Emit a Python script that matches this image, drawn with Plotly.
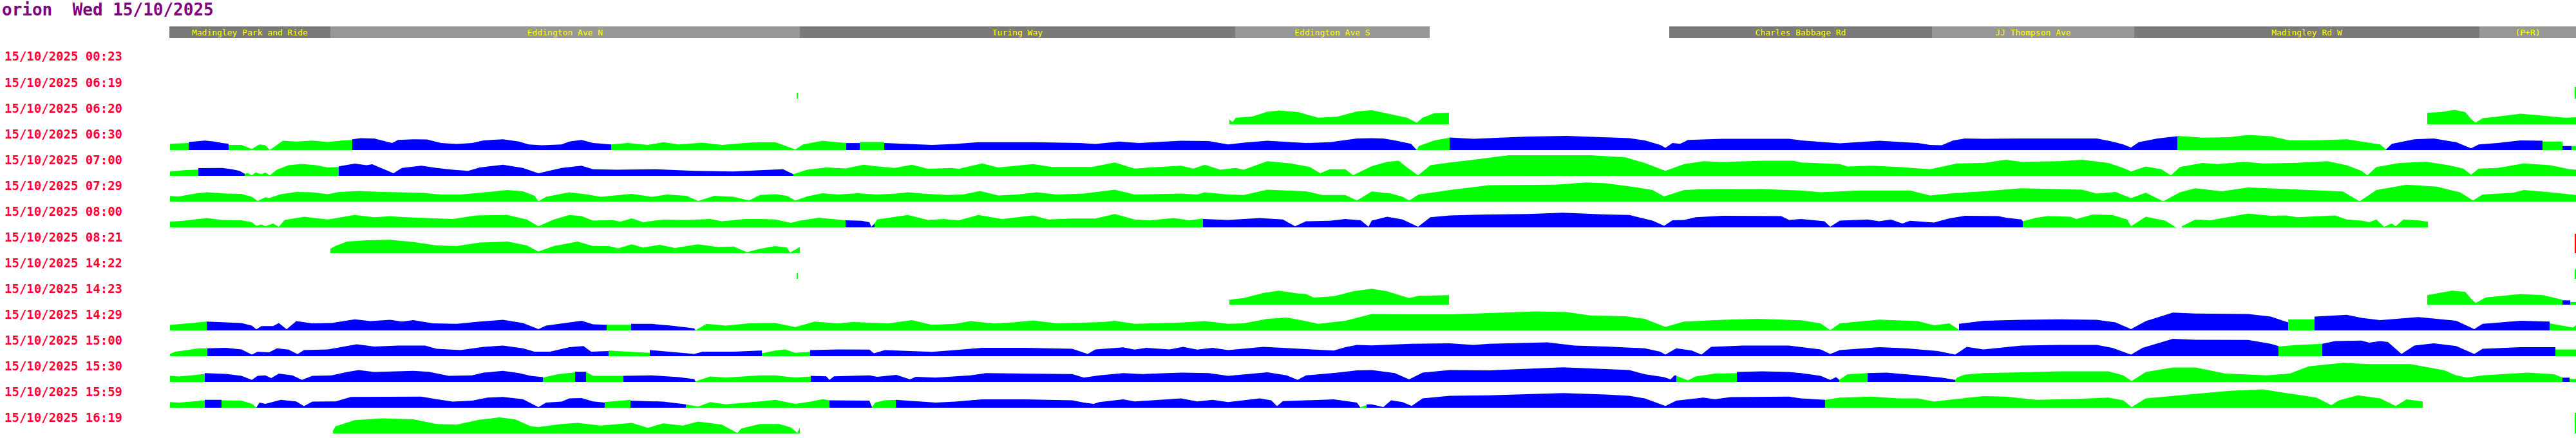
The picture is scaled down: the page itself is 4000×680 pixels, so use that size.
import plotly.graph_objects as go

# ---------------- data ----------------
W, H = 4000, 680
bus_name = "orion"
day_label = "Wed\u00a015/10/2025"
day = "15/10/2025"
row_times = ["00:23", "06:19", "06:20", "06:30", "07:00", "07:29", "08:00", "08:21",
             "14:22", "14:23", "14:29", "15:00", "15:30", "15:59", "16:19"]

stop_names = ["Madingley Park and Ride", "Eddington Ave N", "Turing Way", "Eddington Ave S",
              "Charles Babbage Rd", "JJ Thompson Ave", "Madingley Rd W", "(P+R)"]
stop_start = [263, 513, 1242, 1918, 2592, 3000, 3314, 3850]
stop_end = [513, 1242, 1918, 2220, 3000, 3314, 3850, 4000]
stop_shade = ["dark", "light", "dark", "light", "dark", "light", "dark", "light"]

G, B, R = "g", "b", "r"

row_0620 = [
    (G, [1909, 1914, 1919, 1944, 1968, 1986, 2016, 2034, 2047, 2077, 2107, 2130, 2160, 2185, 2200, 2209, 2227, 2250],
        [7.4, 3.5, 10.2, 11.9, 19.6, 21.4, 18.9, 13.7, 10.2, 11.9, 20, 22.1, 15.8, 10.2, 2.5, 10.2, 17.2, 17.9]),
    (G, [3769, 3790, 3811, 3828, 3837, 3844, 3855, 3878, 3914, 3949, 3984, 4000],
        [17.9, 18.9, 22.5, 18.9, 8.4, 2.5, 9.5, 11.9, 16.5, 13, 10.2, 10.9]),
]

row_0630 = [
    (G, [264, 291, 293], [9.8, 10.9, 10.9]),
    (B, [293, 318, 333, 345, 355], [12.6, 14.7, 13.3, 10.9, 9.8]),
    (G, [355, 375, 391, 403, 412, 419, 439, 460, 485, 509, 533, 547],
        [8, 8, 1.8, 8.8, 7.4, 0, 14.4, 13.3, 14.7, 12.6, 15, 15.8]),
    (B, [547, 560, 581, 594, 609, 618, 642, 663, 685, 709, 733, 751, 781, 806, 821, 842, 872, 884, 903, 921, 949],
        [16.8, 18.6, 17.9, 15, 10.9, 15.8, 16.8, 16.5, 10.9, 9.5, 10.9, 15, 16.8, 13.3, 8.8, 7.4, 8.8, 13.3, 15.8, 10.9, 8.8]),
    (G, [949, 975, 1006, 1030, 1054, 1091, 1121, 1163, 1180, 1204, 1235, 1247, 1277, 1314],
        [8.8, 10.9, 8, 12.3, 8.8, 11.6, 8, 11.6, 12.3, 12.3, 1, 8.8, 14.4, 10.9]),
    (B, [1314, 1335], [10.9, 10.9]),
    (G, [1335, 1373], [12.6, 12.6]),
    (B, [1373, 1422, 1447, 1483, 1519, 1604, 1677, 1701, 1738, 1768, 1834, 1877, 1907, 1931, 1968, 2028, 2065, 2107,
         2130, 2148, 2166, 2191, 2200],
        [10.9, 8.8, 8, 9.5, 12.3, 12.3, 10.9, 9.5, 13.3, 10.9, 14.4, 14, 8.8, 11.6, 14.4, 10.9, 12.3, 17.9,
         18.6, 17.9, 15, 9.8, 0]),
    (G, [2200, 2203, 2227, 2251], [0, 6.3, 15, 19.3]),
    (B, [2251, 2288, 2312, 2372, 2433, 2500, 2530, 2554, 2578, 2586, 2597, 2609, 2621, 2675, 2778, 2797, 2857, 2918,
         2978, 2997, 3015, 3033, 3051, 3080, 3139, 3256, 3280, 3297, 3309, 3321, 3350, 3381],
        [19.6, 17.5, 18.6, 21, 22, 20, 18.6, 15, 8, 3.5, 10.9, 9.8, 15.8, 17.5, 17.5, 15, 10.5, 14.4,
         10.9, 8, 7.4, 15, 17.9, 17.5, 17.9, 17.9, 13.3, 8.8, 3.9, 12.3, 17.9, 21.4]),
    (G, [3381, 3420, 3462, 3491, 3526, 3555, 3591, 3644, 3667, 3696, 3705],
        [22, 19.3, 20, 23.5, 21.4, 15, 15, 16.8, 13.3, 8.8, 1]),
    (B, [3705, 3714, 3749, 3779, 3814, 3837, 3849, 3878, 3914, 3948],
        [1, 9.8, 16.8, 17.9, 12.3, 2.8, 8.8, 10.9, 15, 14.4]),
    (G, [3948, 3979], [13.3, 13.3]),
    (B, [3979, 3993], [6.3, 6.3]),
    (G, [3993, 4000], [6.3, 6.3]),
]

row_0700 = [
    (G, [264, 285, 308], [6.7, 8.8, 9.8]),
    (B, [308, 345, 360, 372, 380], [11.9, 12.3, 10.2, 7.7, 3.2]),
    (G, [380, 385, 391, 397, 406, 412, 419, 430, 448, 469, 491, 509, 526],
        [3.2, 4.2, 0.7, 5.3, 2.5, 5.3, 0.7, 9.5, 16.5, 18.6, 16.5, 13, 13.7]),
    (B, [526, 551, 569, 578, 594, 611, 624, 654, 678, 703, 727, 745, 781, 812, 836, 872, 903, 921, 957, 1018,
         1078, 1139, 1180, 1204, 1216, 1232],
        [14.7, 19, 16.5, 17.9, 11.2, 3.9, 12.3, 15.8, 12.3, 9.5, 7.7, 13, 17.2, 12.3, 3.9, 12.3, 15.8, 10.2, 9.5, 10.2,
         7.7, 6.7, 8.8, 9.5, 10.2, 2.5]),
    (G, [1232, 1253, 1283, 1313, 1341, 1362, 1389, 1416, 1441, 1477, 1489, 1525, 1550, 1604, 1634, 1695, 1731, 1762,
         1786, 1834, 1853, 1871, 1895, 1919, 1931, 1968, 2004, 2034, 2050, 2065, 2089, 2101, 2113, 2130, 2154, 2172,
         2185, 2202, 2221, 2251, 2282, 2342, 2469, 2524, 2554, 2586, 2615, 2645, 2675, 2736, 2784, 2797, 2857, 2869,
         2906, 2948, 2997, 3039, 3080, 3115, 3139, 3197, 3233, 3274, 3297, 3309, 3332, 3356, 3371, 3385, 3420, 3444,
         3485, 3514, 3561, 3614, 3644, 3667, 3676, 3690, 3726, 3767, 3802, 3825, 3837, 3849, 3878, 3919, 3960, 3990,
         4000],
        [2.5, 9.5, 13, 11.6, 17.2, 14.7, 12.3, 17.2, 10.9, 12.3, 10.9, 19.3, 13, 18.2, 13.7, 13.7, 20.7, 11.2,
         13, 15.8, 11.2, 17.2, 9.5, 12.3, 9.5, 22.8, 19.3, 13.7, 3.9, 10.2, 10.2, 1, 6.7, 15, 21.8, 23.5,
         13, 0.7, 16.5, 20.7, 24.2, 31.9, 31.9, 28.8, 20, 7.7, 18.2, 22.8, 21.4, 23.5, 23.5, 20.7, 18.2, 14.4,
         15.8, 13.7, 10.2, 19.3, 20, 24.9, 21.8, 22.8, 24.9, 20, 12.3, 6.7, 14.4, 10.2, 0.7, 13.7, 20, 18.2,
         21.8, 19.3, 20, 22.8, 16.5, 7.7, 0.7, 13.7, 20, 22.1, 16.5, 11.2, 1.8, 11.2, 12.3, 19.3, 16.5, 10.2,
         9.5]),
]

row_0729 = [
    (G, [264, 278, 303, 321, 351, 375, 391, 400, 412, 418, 436, 460, 485, 509, 527, 557, 594, 654, 685, 715,
         745, 788, 812, 830, 836, 848, 884, 909, 933, 981, 1012, 1036, 1066, 1084, 1109, 1139, 1163, 1180, 1204, 1222,
         1235, 1253, 1277, 1301, 1332, 1362, 1392, 1410, 1435, 1471, 1495, 1522, 1550, 1580, 1610, 1641, 1683, 1731,
         1762, 1834, 1859, 1871, 1907, 1931, 1968, 2028, 2053, 2089, 2107, 2130, 2160, 2178, 2188, 2203, 2251, 2312,
         2415, 2463, 2494, 2542, 2566, 2584, 2615, 2645, 2736, 2797, 2827, 2888, 2966, 2997, 3027, 3080, 3139, 3197,
         3233, 3256, 3285, 3309, 3332, 3359, 3385, 3409, 3450, 3491, 3550, 3591, 3638, 3664, 3690, 3737, 3784, 3820,
         3840, 3855, 3902, 3919, 3960, 4000],
        [8.8, 8.1, 12.6, 14.4, 12.6, 11.9, 7.4, 1, 6.7, 5.6, 11.6, 15.1, 14.4, 11.6, 15.1, 16.5, 15.1, 13.7, 10.9, 10.9,
         13.7, 17.9, 16.1, 9.1, 0.4, 7.4, 14.4, 11.6, 7.4, 11.9, 7.4, 10.9, 9.1, 1, 9.1, 7.4, 1.8, 10.2, 11.6, 9.1,
         1.8, 8.1, 13, 10.9, 13, 10.9, 12.6, 14.4, 12.3, 10.2, 10.9, 16.5, 9.5, 10.9, 14.4, 10.9, 12.6, 18.6,
         10.9, 12.6, 10.9, 14.4, 10.9, 10.2, 18.6, 16.1, 10.2, 10.2, 1.8, 15.8, 12.6, 7.4, 1.8, 10.9, 17.9, 25.6,
         26.3, 29.8, 28.4, 22.1, 17.9, 8.1, 17.9, 19.3, 19.6, 17.2, 14.4, 17.2, 17.2, 9.5, 12.6, 16, 20.7, 19.3,
         18.6, 12.6, 15.1, 5.6, 13.7, 0.4, 14.4, 20.7, 16.1, 22.1, 19.6, 17.9, 15.8, 0.4, 17.9, 26.3, 23.2, 14.4,
         1.8, 10.9, 13.7, 17.9, 14.4, 10.2]),
]

row_0800 = [
    (G, [264, 285, 321, 345, 375, 391, 398, 406, 412, 424, 433, 442, 472, 509, 551, 581, 606, 630, 703, 739,
         788, 818, 836, 860, 884, 903, 921, 951, 963, 981, 999, 1030, 1066, 1103, 1121, 1157, 1180, 1204, 1228, 1241,
         1271, 1301, 1313],
        [8.8, 10.2, 14.4, 11.6, 10.9, 8.1, 2.5, 4.6, 1.8, 6, 1, 11.6, 16.5, 12.3, 19.3, 15.8, 17.2, 15.8, 13, 18.6,
         19.3, 12.3, 1.8, 12.3, 19.3, 17.5, 10.5, 11.6, 8.8, 14, 8.1, 12.3, 11.6, 13, 9.5, 13, 13, 12.3, 7, 10.2,
         15.1, 12.3, 10.9]),
    (B, [1313, 1338, 1350, 1353, 1358], [10.9, 10.2, 8.1, 1, 6]),
    (G, [1358, 1362, 1386, 1410, 1441, 1465, 1489, 1519, 1556, 1604, 1628, 1665, 1701, 1731, 1762, 1786, 1822, 1847, 1868],
        [6, 12.3, 15.8, 19.3, 11.6, 13, 10.9, 19.3, 13, 18.6, 12.3, 13.7, 13.7, 20.7, 12.3, 10.9, 14.4, 10.9, 13.7]),
    (B, [1868, 1907, 1956, 1992, 2011, 2028, 2065, 2089, 2113, 2125, 2130, 2154, 2178, 2202, 2221, 2251, 2312, 2372,
         2427, 2494, 2530, 2566, 2584, 2597, 2615, 2633, 2675, 2766, 2778, 2797, 2833, 2842, 2857, 2900, 2918, 2936,
         2954, 2966, 3003, 3027, 3051, 3080, 3103, 3115, 3139, 3141],
        [13, 11.6, 14.4, 12.3, 1.8, 9.5, 10.2, 13, 10.9, 1, 10.5, 16.5, 12.3, 1, 15.8, 18.6, 20, 20.7,
         22.8, 20, 19.3, 10.5, 2.5, 10.9, 11.6, 15.8, 17.9, 17.5, 11.6, 13, 9.5, 1, 10.5, 12.3, 9.5, 12.3,
         6, 10.2, 7.4, 14, 17.9, 17.9, 17.5, 15.1, 12.3, 9.5]),
    (G, [3141, 3162, 3180, 3215, 3224, 3250, 3280, 3303, 3309, 3332, 3362, 3379],
        [9.5, 15.1, 17.5, 16.5, 13, 20, 19.3, 12.3, 1.8, 16.5, 10.5, 0]),
    (G, [3388, 3409, 3432, 3456, 3491, 3526, 3550, 3567, 3626, 3644, 3667, 3679, 3690, 3702, 3714, 3720, 3732, 3755, 3770],
        [1.8, 12.3, 10.9, 15.1, 21.4, 17.9, 18.6, 15.8, 18.6, 12.3, 10.5, 8.1, 12.3, 1, 6, 1.8, 12.3, 10.9, 8.8]),
]

row_0821 = [
    (G, [513, 521, 539, 569, 606, 642, 678, 709, 745, 788, 818, 836, 860, 897, 921, 945, 960, 981, 999, 1024,
         1048, 1084, 1115, 1139, 1160, 1180, 1204, 1222, 1227, 1241, 1242],
        [6.7, 11.2, 17.9, 20, 20.7, 17.2, 11.9, 10.9, 16.5, 17.9, 11.9, 2.5, 10.9, 17.9, 10.9, 10.9, 7.4, 13.7, 8.4, 13,
         8.1, 13.7, 9.5, 10.2, 1.4, 6.7, 10.9, 8.4, 1, 9.5, 9.5]),
]

row_1423 = [
    (G, [1909, 1931, 1962, 1986, 2016, 2028, 2040, 2071, 2101, 2130, 2154, 2188, 2203, 2250],
        [7.7, 10.2, 18.2, 21.8, 17.2, 16.5, 10.9, 13, 20.7, 24.8, 20.7, 10.2, 13.7, 14.7]),
    (G, [3769, 3807, 3828, 3837, 3844, 3860, 3914, 3949, 3979],
        [14.7, 21.8, 20, 9.5, 2.5, 11.2, 16.5, 14.7, 7.7]),
    (B, [3979, 3991], [6.7, 6.7]),
    (G, [3991, 4000], [4.2, 4.2]),
]

row_1429 = [
    (G, [264, 291, 321], [8.4, 10.9, 13.7]),
    (B, [321, 351, 375, 391, 398, 406, 424, 433, 445, 460, 485, 515, 551, 575, 606, 624, 642, 672, 709, 745,
         781, 812, 836, 848, 872, 903, 921, 942],
        [13.7, 12.6, 11.6, 7.4, 1.8, 6.7, 6.7, 11.6, 1.8, 14.4, 10.9, 11.6, 17.2, 14.4, 16.5, 13.7, 16.1, 10.9, 10.2, 13.7,
         16.5, 11.6, 2.1, 7.4, 10.9, 15.1, 9.5, 8.8]),
    (G, [942, 980], [8.8, 8.8]),
    (B, [980, 1012, 1042, 1078, 1080], [10.2, 10.2, 7.4, 3.2, 0.3]),
    (G, [1080, 1097, 1127, 1163, 1180, 1204, 1235, 1265, 1301, 1325, 1380, 1416, 1447, 1483, 1507, 1544, 1574, 1604,
         1641, 1677, 1713, 1731, 1762, 1834, 1871, 1907, 1931, 1968, 1998, 2028, 2047, 2089, 2130, 2191, 2251, 2312,
         2385, 2433, 2469, 2524, 2554, 2586, 2615, 2675, 2730, 2797, 2827, 2842, 2857, 2918, 2978, 3003, 3027, 3042],
        [0.3, 10.2, 7.4, 10.9, 11.6, 11.6, 5.3, 13.7, 10.9, 13, 10.9, 16.1, 8.8, 10.2, 14.4, 10.9, 12.6, 15.4,
         10.9, 11.6, 13, 15.1, 10.2, 12.3, 14.4, 10.2, 10.9, 17.9, 20, 14.4, 10.2, 15.1, 25.5, 24.9, 24.9, 27,
         29.5, 28.4, 23.2, 22.1, 17.9, 5.6, 13.7, 16.5, 17.9, 15.8, 10.9, 0.5, 10.9, 16.8, 14.4, 8.1, 10.9, 1]),
    (B, [3042, 3080, 3139, 3197, 3256, 3285, 3309, 3332, 3374, 3409, 3491, 3526, 3553],
        [10.2, 15.1, 16.5, 17.2, 16.5, 12.6, 2.1, 14.4, 27.7, 26.3, 25.6, 21.4, 12.6]),
    (G, [3553, 3594], [17.2, 17.2]),
    (B, [3594, 3644, 3667, 3696, 3755, 3814, 3842, 3855, 3914, 3959],
        [21.4, 24.2, 19.6, 16.1, 20.7, 15.1, 2.1, 10.2, 15.1, 13.7]),
    (G, [3959, 3995, 4000], [10.9, 4.6, 8]),
]

row_1500 = [
    (G, [264, 272, 291, 309, 322], [3.5, 7, 9.5, 12.3, 12.3]),
    (B, [322, 351, 375, 391, 400, 418, 430, 448, 462, 472, 509, 533, 554, 581, 618, 660, 678, 715, 751, 781,
         812, 830, 854, 884, 906, 918, 945],
        [12.3, 13, 10.5, 2.5, 7, 6, 12.3, 10.2, 3.2, 9.5, 10.5, 15.1, 18.6, 15.1, 16.5, 16.5, 11.6, 9.5, 14.4, 16.5,
         12.3, 7, 7, 14, 15.8, 7, 8.1]),
    (G, [945, 1009], [8.8, 5.3]),
    (B, [1009, 1048, 1078, 1091, 1139, 1180, 1183], [9.5, 6, 3.5, 7, 7, 8.8, 8.8]),
    (G, [1183, 1204, 1219, 1235, 1258], [4.6, 8.8, 10.5, 5.3, 6.7]),
    (B, [1258, 1301, 1350, 1357, 1374, 1422, 1447, 1483, 1525, 1592, 1665, 1689, 1701, 1744, 1762, 1780, 1816, 1837,
         1859, 1883, 1907, 1962, 2016, 2071, 2089, 2107, 2130, 2191, 2251, 2288, 2312, 2403, 2445, 2494, 2554, 2578,
         2586, 2603, 2627, 2642, 2657, 2706, 2778, 2797, 2827, 2842, 2857, 2918, 2960, 3009, 3036, 3054, 3080, 3139,
         3197, 3256, 3280, 3309, 3327, 3374, 3409, 3491, 3526, 3538],
        [9.5, 10.5, 10.2, 4.6, 9.5, 8.1, 6.7, 9.5, 13, 13, 11.6, 3.5, 10.5, 13.7, 10.2, 13, 10.5, 14.4,
         10.2, 13, 9.5, 14.4, 11.6, 8.8, 14, 17.5, 16.7, 19.3, 20, 17.5, 19.3, 21.4, 16.5, 15.1, 12.3, 7,
         2.5, 12.3, 8.8, 2.5, 14.4, 16.5, 16.5, 14, 10.5, 3.5, 9.5, 14, 12.3, 8.1, 2.5, 14.4, 10.5, 16.5,
         17.5, 17.5, 13, 2.5, 13, 27, 25.6, 25.3, 19.3, 15.8]),
    (G, [3538, 3567, 3606], [15.1, 17.5, 19.3]),
    (B, [3606, 3626, 3667, 3679, 3696, 3708, 3729, 3749, 3779, 3814, 3842, 3855, 3914, 3968],
        [19.3, 23.5, 24.2, 21, 23.5, 22.1, 3.5, 16.5, 20, 15.8, 3.5, 11.6, 14, 14]),
    (G, [3968, 4000], [10.5, 10.5]),
]

row_1530 = [
    (G, [264, 278, 297, 318], [9.5, 8.4, 10.2, 12.6]),
    (B, [318, 351, 375, 391, 400, 412, 421, 433, 454, 469, 485, 515, 539, 557, 581, 606, 642, 666, 697, 733,
         751, 781, 806, 824, 843],
        [13.7, 12.6, 9.5, 3.2, 9.5, 10.2, 6, 13, 10.2, 3.2, 9.5, 10.2, 15.4, 18.6, 15.4, 16.1, 17.2, 15.8, 9.5, 10.2,
         14.4, 17.2, 13.7, 9.5, 7.4]),
    (G, [843, 866, 893], [6.7, 11.9, 15.1]),
    (B, [893, 910], [15.8, 15.8]),
    (G, [910, 921, 968], [15.4, 9.5, 9.5]),
    (B, [968, 1012, 1054, 1078, 1080], [9.5, 10.2, 7.4, 4.6, 1]),
    (G, [1080, 1103, 1127, 1180, 1204, 1235, 1259], [1, 8.4, 6.7, 10.2, 10.2, 6.7, 8.4]),
    (B, [1259, 1283, 1288, 1295, 1350, 1362, 1392, 1413, 1422, 1453, 1507, 1531, 1592, 1665, 1683, 1707, 1744, 1774,
         1834, 1877, 1907, 1968, 1998, 2015, 2028, 2077, 2107, 2130, 2166, 2188, 2209, 2251, 2312, 2372, 2427, 2494,
         2530, 2554, 2584, 2594, 2600, 2603],
        [9.5, 8.8, 3.2, 8.8, 10.2, 8.1, 10.9, 3.9, 8.1, 6.7, 10.2, 13.7, 13, 12.3, 6.7, 10.2, 13.7, 12.3,
         14.4, 13.7, 9.5, 15.1, 10.2, 3.2, 10.2, 14.4, 17.9, 18.6, 13.7, 3.9, 14.4, 18.6, 17.9, 20.7, 22.8, 20,
         18.6, 11.9, 7.4, 3.9, 10.2, 10]),
    (G, [2603, 2621, 2633, 2663, 2697], [9.5, 2.5, 8.4, 13, 13.7]),
    (B, [2697, 2736, 2778, 2797, 2827, 2842, 2851, 2856], [15.4, 16.5, 15.4, 13.7, 9.5, 3.2, 7.4, 3.2]),
    (G, [2856, 2869, 2900], [3.2, 11.9, 13.7]),
    (B, [2900, 2930, 2978, 3015, 3036], [13.7, 14.4, 10.2, 6.7, 3.2]),
    (G, [3036, 3039, 3051, 3080, 3139, 3197, 3274, 3297, 3310, 3332, 3374, 3409, 3456, 3520, 3555, 3585, 3638, 3679,
         3743, 3796, 3814, 3831, 3855, 3925, 3966, 3979],
        [3.2, 6.7, 11.6, 13.7, 15.1, 16.5, 16.5, 10.2, 1.4, 15.4, 22.5, 22.5, 13, 10.2, 13, 24.2, 29.8, 27.7,
         27.7, 17.9, 10.2, 6.7, 10.2, 14.4, 11.9, 6.7]),
    (B, [3979, 3990], [6.7, 6.7]),
    (G, [3990, 4000], [4.6, 4.6]),
]

row_1559 = [
    (G, [264, 278, 297, 315, 318], [8.8, 8.1, 9.5, 11.6, 11.6]),
    (B, [318, 344], [12.3, 12.3]),
    (G, [344, 375, 391, 398], [11.6, 10.9, 6.3, 0.3]),
    (B, [398, 403, 412, 436, 460, 472, 485, 521, 545, 594, 654, 678, 703, 733, 757, 781, 812, 836, 848, 872,
         884, 903, 921, 939],
        [0.3, 8.1, 6, 12.3, 9.8, 2.5, 9.5, 9.8, 16.8, 17.2, 17.2, 13.3, 9.5, 10.9, 15.8, 16.8, 13.3, 1, 8.1, 9.5,
         14.4, 15.1, 9.8, 8.1]),
    (G, [939, 979], [8.8, 12.3]),
    (B, [979, 1030, 1065], [10.9, 9.5, 5.3]),
    (G, [1065, 1084, 1103, 1127, 1180, 1204, 1235, 1259, 1277, 1288], [5.3, 1.8, 8.8, 5.3, 9.8, 12.3, 6, 9.5, 13.3, 11.6]),
    (B, [1288, 1350, 1354], [11.6, 10.9, 1]),
    (G, [1354, 1359, 1374, 1391], [1, 8.1, 11.6, 12.3]),
    (B, [1391, 1435, 1453, 1483, 1525, 1592, 1665, 1683, 1698, 1707, 1744, 1762, 1834, 1859, 1883, 1907, 1956, 1974,
         1983, 1992, 2071, 2107, 2112],
        [12.3, 9.5, 8.1, 9.5, 13, 13, 11.6, 8.1, 6, 8.8, 13, 9.8, 14.4, 9.8, 12.3, 8.8, 14.4, 11.6,
         2.5, 10.2, 13, 8.1, 1]),
    (G, [2112, 2122], [1, 4]),
    (B, [2122, 2130, 2148, 2160, 2178, 2192, 2209, 2251, 2312, 2372, 2427, 2494, 2530, 2554, 2586, 2603, 2645, 2663,
         2687, 2778, 2797, 2834],
        [5.3, 5.3, 1, 11.6, 8.8, 2.8, 14.4, 18.6, 19.3, 21.4, 22.8, 20.4, 18.6, 14.4, 2.8, 10.9, 15.8, 13.3,
         16.5, 17.2, 14.4, 12.3]),
    (G, [2834, 2857, 2906, 2948, 2978, 3003, 3039, 3080, 3115, 3162, 3227, 3274, 3297, 3310, 3332, 3374, 3409, 3462,
         3514, 3550, 3597, 3620, 3632, 3661, 3696, 3720, 3737, 3762],
        [12.3, 15.8, 17.2, 14.4, 14.4, 9.5, 13.7, 18, 17.2, 12.3, 13.7, 15.8, 11.6, 1, 14.4, 18.6, 21.4, 26.3,
         28.4, 22.8, 15.8, 3.9, 11.6, 19.3, 14.4, 2.8, 13, 9.8]),
]

row_1619 = [
    (G, [517, 521, 551, 594, 642, 678, 709, 745, 775, 800, 824, 836, 872, 897, 933, 981, 1006, 1030, 1060, 1084,
         1121, 1145, 1151, 1180, 1210, 1228, 1238, 1242],
        [4.2, 11.2, 20.7, 23.5, 22.1, 14.7, 13.7, 21.4, 24.9, 22.1, 11.2, 10, 14.7, 16.5, 12.3, 16.5, 8.8, 15.8, 12.3, 18.6,
         13.7, 0.7, 7.7, 14.7, 14.7, 9.5, 1, 9.5]),
]

row_profiles = {2: row_0620, 3: row_0630, 4: row_0700, 5: row_0729, 6: row_0800, 7: row_0821,
                9: row_1423, 10: row_1429, 11: row_1500, 12: row_1530, 13: row_1559, 14: row_1619}

# thin single-sample marks
tick_rows = [1, 1, 7, 8, 8, 14]
tick_x = [1238, 3999, 3999, 1238, 3999, 3999]
tick_h = [9, 18, 30, 9, 15, 32]
tick_col = [G, G, R, G, G, G]

# ---------------- style ----------------
COL = {G: "#00ff00", B: "#0000ff", R: "#ff0000"}
SHADE = {"dark": "#7a7a7a", "light": "#979797"}
LABEL_RED = "#ff0033"
TITLE_PURPLE = "#800080"
MONO = "DejaVu Sans Mono"

ROW0_BASE = 113   # px of first row baseline
ROW_STEP = 40
ROW_SPAN = 40

fig = go.Figure()

# header route bar
fig.add_trace(go.Bar(
    orientation="h", y=[0] * len(stop_names),
    base=stop_start, x=[e - s for s, e in zip(stop_start, stop_end)],
    width=1, marker=dict(color=[SHADE[s] for s in stop_shade], line=dict(width=0)),
    text=stop_names, textposition="inside", insidetextanchor="middle",
    constraintext="none",
    textfont=dict(color="#ffff00", size=13, family=MONO),
    xaxis="x", yaxis="y", hoverinfo="skip", showlegend=False,
))

layout_axes = {}
for i in range(len(row_times)):
    base = ROW0_BASE + ROW_STEP * i
    ax = f"yaxis{i + 2}"
    layout_axes[ax] = dict(domain=[1 - base / H, 1 - (base - ROW_SPAN) / H],
                           range=[0, ROW_SPAN], visible=False, anchor="x", fixedrange=True)
    for col, xs, hs in row_profiles.get(i, []):
        fig.add_trace(go.Scatter(
            x=xs, y=hs, mode="lines", fill="tozeroy",
            fillcolor=COL[col], line=dict(width=0, color=COL[col]),
            xaxis="x", yaxis=f"y{i + 2}", hoverinfo="skip", showlegend=False,
        ))

for r, tx, th, tc in zip(tick_rows, tick_x, tick_h, tick_col):
    fig.add_trace(go.Bar(x=[tx], y=[th], width=2, marker=dict(color=COL[tc], line=dict(width=0)),
                         xaxis="x", yaxis=f"y{r + 2}", hoverinfo="skip", showlegend=False))

annotations = [dict(
    text=f"<b>{bus_name}\u00a0\u00a0{day_label}</b>", x=1 / W, y=1 - 15 / H, xref="paper", yref="paper",
    xanchor="left", yanchor="middle", showarrow=False,
    font=dict(family=MONO, size=26, color=TITLE_PURPLE),
)]
for i, t in enumerate(row_times):
    annotations.append(dict(
        text=f"<b>{day}\u00a0{t}</b>", x=5 / W, y=1 - (ROW0_BASE - 25.5 + ROW_STEP * i) / H,
        xref="paper", yref="paper", xanchor="left", yanchor="middle", showarrow=False,
        font=dict(family=MONO, size=19, color=LABEL_RED),
    ))

fig.update_layout(
    width=W, height=H, margin=dict(l=0, r=0, t=0, b=0),
    paper_bgcolor="white", plot_bgcolor="white",
    barmode="overlay", showlegend=False,
    xaxis=dict(range=[0, W], domain=[0, 1], visible=False, fixedrange=True),
    yaxis=dict(domain=[1 - 59 / H, 1 - 41 / H], range=[-0.5, 0.5], visible=False, fixedrange=True),
    annotations=annotations,
    **layout_axes,
)

fig.write_html(
    "out.html",
    config={"displayModeBar": False},
    post_script="document.body.style.margin='0px';document.body.style.overflow='hidden';",
)
